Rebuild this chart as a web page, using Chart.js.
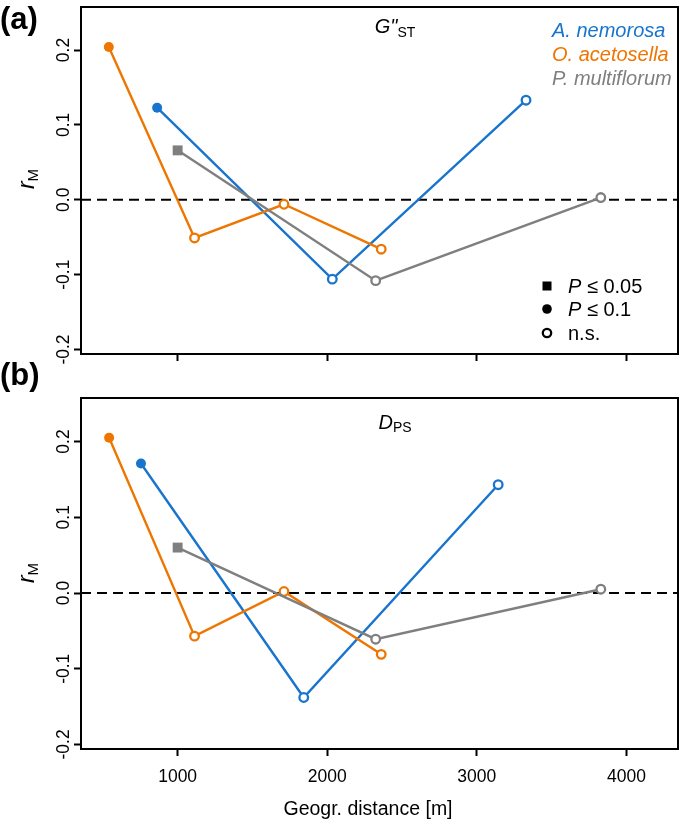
<!DOCTYPE html>
<html>
<head>
<meta charset="utf-8">
<script src="https://cdn.jsdelivr.net/npm/chart.js@4/dist/chart.umd.min.js"></script>
<style>
  html, body { margin: 0; padding: 0; background: #fff; }
  #wrap { position: relative; width: 685px; height: 825px; background: #fff; overflow: hidden; }
  #wrap canvas { position: absolute; left: 0; }
  #panelA { top: 0; }
  #panelB { top: 355px; }
</style>
</head>
<body>
<div id="wrap">
  <canvas id="panelA" width="685" height="412"></canvas>
  <canvas id="panelB" width="685" height="470"></canvas>
</div>
<script>
// ── Data ──────────────────────────────────────────────────
const xTicks = [1000, 2000, 3000, 4000];
const yTicks = [-0.2, -0.1, 0.0, 0.1, 0.2];

const species = ["A. nemorosa", "O. acetosella", "P. multiflorum"];
const speciesColors = ["#1874CD", "#EE7600", "#7F7F7F"];

// (a) G''ST   sig: p05 = P <= 0.05, p10 = P <= 0.1, ns = n.s.
const aNemX_G = [863, 2034, 3329];
const aNemY_G = [0.123, -0.106, 0.133];
const aNemP_G = ["p10", "ns", "ns"];

const oAceX_G = [540, 1113, 1711, 2361];
const oAceY_G = [0.204, -0.051, -0.006, -0.066];
const oAceP_G = ["p10", "ns", "ns", "ns"];

const pMulX_G = [1000, 2324, 3829];
const pMulY_G = [0.066, -0.108, 0.003];
const pMulP_G = ["p05", "ns", "ns"];

// (b) DPS
const aNemX_D = [755, 1843, 3143];
const aNemY_D = [0.171, -0.138, 0.143];
const aNemP_D = ["p10", "ns", "ns"];

const oAceX_D = [542, 1113, 1711, 2361];
const oAceY_D = [0.205, -0.057, 0.002, -0.081];
const oAceP_D = ["p10", "ns", "ns", "ns"];

const pMulX_D = [1000, 2324, 3829];
const pMulY_D = [0.060, -0.061, 0.005];
const pMulP_D = ["p05", "ns", "ns"];

// ── Helpers ───────────────────────────────────────────────
const FONT = "'Liberation Sans', Arial, Helvetica, sans-serif";
const fmtY = (v) => (Math.abs(v) < 1e-9 ? "0.0" : v.toFixed(1));
const pts = (xs, ys) => xs.map((x, i) => ({ x, y: ys[i] }));

function series(xs, ys, sig, color) {
  return {
    data: pts(xs, ys),
    showLine: true,
    borderColor: color,
    borderWidth: 2.4,
    pointStyle: sig.map((s) => (s === "p05" ? "rect" : "circle")),
    pointRadius: sig.map((s) => (s === "p05" ? 7 : s === "p10" ? 5 : 4.3)),
    pointBackgroundColor: sig.map((s) => (s === "ns" ? "#fff" : color)),
    pointBorderColor: color,
    pointBorderWidth: sig.map((s) => (s === "ns" ? 2.3 : 0)),
    pointHoverRadius: 0,
  };
}

function runs(ctx, parts, x, y, align) {
  let w = 0;
  parts.forEach((p) => { ctx.font = p[1]; w += ctx.measureText(p[0]).width; });
  let cx = align === "center" ? x - w / 2 : x;
  parts.forEach((p) => {
    ctx.font = p[1];
    ctx.fillText(p[0], cx, y + (p[2] || 0));
    cx += ctx.measureText(p[0]).width;
  });
}

function yLabel(ctx, cx, cy) {
  ctx.save();
  ctx.translate(cx, cy);
  ctx.rotate(-Math.PI / 2);
  ctx.fillStyle = "#000";
  ctx.textBaseline = "alphabetic";
  runs(ctx, [["r", `italic 23px ${FONT}`], ["M", `15px ${FONT}`, 4]], 0, 7, "center");
  ctx.restore();
}

// frame, zero line and panel notes
function framePlugin(notes) {
  return {
    id: "frame",
    beforeDatasetsDraw(chart) {
      const { ctx, chartArea: a, scales } = chart;
      const y0 = scales.y.getPixelForValue(0);
      ctx.save();
      ctx.strokeStyle = "#000";
      ctx.lineWidth = 2;
      ctx.setLineDash([10, 6]);
      ctx.beginPath();
      ctx.moveTo(a.left, y0);
      ctx.lineTo(a.right, y0);
      ctx.stroke();
      ctx.restore();
    },
    afterDraw(chart) {
      const { ctx, chartArea: a } = chart;
      ctx.save();
      ctx.strokeStyle = "#000";
      ctx.lineWidth = 2;
      ctx.strokeRect(a.left, a.top, a.right - a.left, a.bottom - a.top);
      ctx.fillStyle = "#000";
      notes(ctx);
      ctx.restore();
    },
  };
}

function makeChart(id, sets, padTop, xHeight, showX, notes) {
  return new Chart(document.getElementById(id), {
    type: "scatter",
    data: {
      datasets: [
        series(sets[2][0], sets[2][1], sets[2][2], speciesColors[2]),
        series(sets[1][0], sets[1][1], sets[1][2], speciesColors[1]),
        series(sets[0][0], sets[0][1], sets[0][2], speciesColors[0]),
      ],
    },
    options: {
      responsive: false,
      animation: false,
      layout: { padding: { left: 0, right: 3, top: padTop, bottom: 0 } },
      plugins: { legend: { display: false }, tooltip: { enabled: false } },
      scales: {
        x: {
          type: "linear",
          min: 354,
          max: 4345,
          afterBuildTicks: (s) => { s.ticks = xTicks.map((v) => ({ value: v })); },
          afterFit: (s) => { s.height = xHeight; s.paddingLeft = 0; s.paddingRight = 0; },
          border: { display: false },
          grid: { drawOnChartArea: false, drawTicks: true, tickLength: 7, tickColor: "#000", tickWidth: 2 },
          ticks: {
            display: showX,
            color: "#000",
            padding: 11,
            font: { family: FONT, size: 17.5 },
            callback: (v) => String(v),
          },
        },
        y: {
          min: -0.206,
          max: 0.2575,
          afterBuildTicks: (s) => { s.ticks = yTicks.map((v) => ({ value: v })); },
          afterFit: (s) => { s.width = 81; s.paddingTop = 0; s.paddingBottom = 0; },
          border: { display: false },
          grid: { drawOnChartArea: false, drawTicks: true, tickLength: 7, tickColor: "#000", tickWidth: 2 },
          ticks: {
            color: "#000",
            minRotation: 90,
            maxRotation: 90,
            crossAlign: "center",
            padding: -5,
            font: { family: FONT, size: 17.5 },
            callback: (v) => fmtY(v),
          },
        },
      },
    },
    plugins: [framePlugin(notes)],
  });
}

function sigLegend(ctx) {
  const rows = [
    ["p05", 286, [["P", `italic 20px ${FONT}`], [" \u2264 0.05", `20px ${FONT}`]]],
    ["p10", 309, [["P", `italic 20px ${FONT}`], [" \u2264 0.1", `20px ${FONT}`]]],
    ["ns", 333, [["n.s.", `20px ${FONT}`]]],
  ];
  rows.forEach(([s, y, txt]) => {
    ctx.fillStyle = "#000";
    ctx.strokeStyle = "#000";
    if (s === "p05") ctx.fillRect(542.5, y - 4.5, 9, 9);
    else {
      ctx.beginPath();
      ctx.arc(547, y, s === "p10" ? 4.8 : 4.2, 0, Math.PI * 2);
      if (s === "p10") ctx.fill();
      else { ctx.lineWidth = 2.3; ctx.stroke(); }
    }
    runs(ctx, txt, 568, y + 7, "left");
  });
}

// ── Panel (a) ─────────────────────────────────────────────
makeChart(
  "panelA",
  [[aNemX_G, aNemY_G, aNemP_G], [oAceX_G, oAceY_G, oAceP_G], [pMulX_G, pMulY_G, pMulP_G]],
  4, 58, false,
  (ctx) => {
    ctx.textBaseline = "alphabetic";
    runs(ctx, [["(a)", `bold 31px ${FONT}`]], 0, 29, "left");
    runs(ctx, [['G"', `italic 20px ${FONT}`], ["ST", `14px ${FONT}`, 4]], 395, 33, "center");
    species.forEach((name, i) => {
      ctx.fillStyle = speciesColors[i];
      runs(ctx, [[name, `italic 20px ${FONT}`]], 552, 37 + i * 24, "left");
    });
    sigLegend(ctx);
    yLabel(ctx, 27, 179);
  }
);

// ── Panel (b) ─────────────────────────────────────────────
makeChart(
  "panelB",
  [[aNemX_D, aNemY_D, aNemP_D], [oAceX_D, oAceY_D, oAceP_D], [pMulX_D, pMulY_D, pMulP_D]],
  43, 76, true,
  (ctx) => {
    ctx.textBaseline = "alphabetic";
    runs(ctx, [["(b)", `bold 31px ${FONT}`]], 0, 30, "left");
    runs(ctx, [["D", `italic 20px ${FONT}`], ["PS", `14px ${FONT}`, 3]], 395, 74, "center");
    yLabel(ctx, 27, 218);
    ctx.textBaseline = "middle";
    runs(ctx, [["Geogr. distance [m]", `19.5px ${FONT}`]], 368, 455, "center");
  }
);
</script>
</body>
</html>
